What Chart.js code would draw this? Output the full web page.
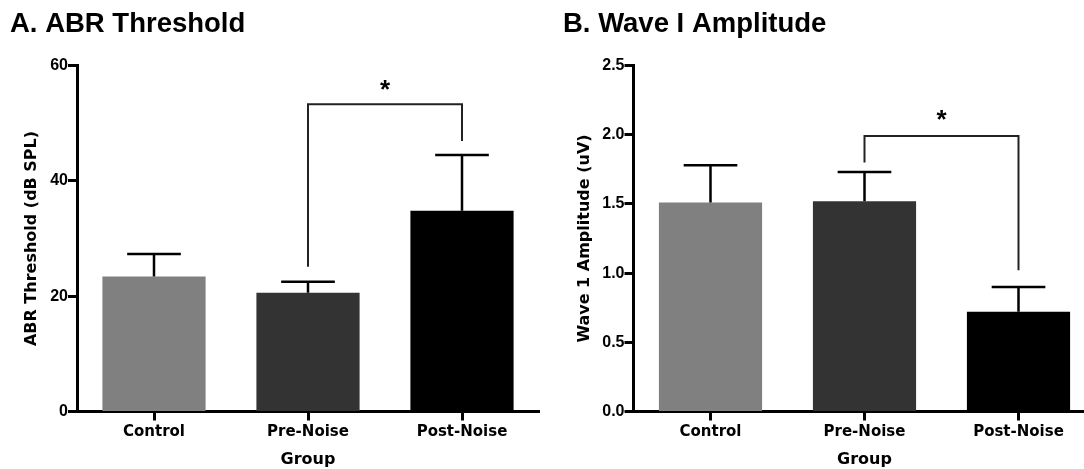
<!DOCTYPE html>
<html><head><meta charset="utf-8">
<script src="https://cdn.jsdelivr.net/npm/chart.js@4.4.1/dist/chart.umd.min.js"></script>
<style>
html,body{margin:0;padding:0;background:#fff;overflow:hidden;width:1084px;height:469px;position:relative;}
#wrapA{position:absolute;left:0;top:0;width:540px;height:469px;}
#wrapB{position:absolute;left:540px;top:0;width:560px;height:469px;}
</style></head><body>
<div id="wrapA"><canvas id="cA" width="540" height="469"></canvas></div>
<div id="wrapB"><canvas id="cB" width="560" height="469"></canvas></div>
<script>
// ---- data ----
const groups = ['Control', 'Pre-Noise', 'Post-Noise'];
const thresholdMean = [23.4, 20.6, 34.8];
const thresholdSEM = [3.9, 1.9, 9.7];
const thresholdTicks = [0, 20, 40, 60];
const amplitudeMean = [1.51, 1.52, 0.72];
const amplitudeSEM = [0.27, 0.21, 0.18];
const amplitudeTicks = [0, 0.5, 1.0, 1.5, 2.0, 2.5];
const barColors = ['#808080', '#333333', '#000000'];
const bracketA = {from: 1, to: 2, top: 53.3, fromEnd: 25.1, toEnd: 46.9, label: '*', labelAt: 56.6};
const bracketB = {from: 1, to: 2, top: 1.99, fromEnd: 1.80, toEnd: 1.02, label: '*', labelAt: 2.14};

const AX = '"DejaVu Sans", sans-serif';
const TF = 'Arial, "Liberation Sans", sans-serif';
Chart.defaults.color = '#000';

const annotate = {
  id: 'annotate',
  afterDatasetsDraw(chart, args, opts) {
    const ctx = chart.ctx, xs = chart.scales.x, ys = chart.scales.y;
    const meta = chart.getDatasetMeta(0);
    ctx.save();
    ctx.strokeStyle = '#000';
    ctx.lineWidth = 2.5;
    opts.mean.forEach((m, i) => {
      const el = meta.data[i];
      const cx = el.x;
      const yTop = ys.getPixelForValue(m + opts.sem[i]);
      const yBar = ys.getPixelForValue(m);
      const half = el.width * 0.26;
      ctx.beginPath();
      ctx.moveTo(cx, yBar); ctx.lineTo(cx, yTop);
      ctx.moveTo(cx - half, yTop); ctx.lineTo(cx + half, yTop);
      ctx.stroke();
    });
    const b = opts.bracket;
    const x1 = xs.getPixelForValue(b.from), x2 = xs.getPixelForValue(b.to);
    ctx.strokeStyle = '#222';
    ctx.lineWidth = 2;
    ctx.beginPath();
    ctx.moveTo(x1, ys.getPixelForValue(b.fromEnd));
    ctx.lineTo(x1, ys.getPixelForValue(b.top));
    ctx.lineTo(x2, ys.getPixelForValue(b.top));
    ctx.lineTo(x2, ys.getPixelForValue(b.toEnd));
    ctx.stroke();
    ctx.font = 'bold 26px ' + TF;
    ctx.fillStyle = '#000';
    ctx.textAlign = 'center';
    ctx.textBaseline = 'alphabetic';
    const mt = ctx.measureText(b.label);
    const cy = ys.getPixelForValue(b.labelAt);
    const base = cy + (mt.actualBoundingBoxAscent - mt.actualBoundingBoxDescent) / 2;
    ctx.fillText(b.label, (x1 + x2) / 2, base);
    ctx.restore();
  }
};

function makeChart(id, cfg) {
  return new Chart(document.getElementById(id), {
    type: 'bar',
    data: {
      labels: groups,
      datasets: [{
        data: cfg.mean,
        backgroundColor: barColors,
        borderWidth: 0,
        barPercentage: 0.67,
        categoryPercentage: 1.0
      }]
    },
    plugins: [annotate],
    options: {
      responsive: false,
      animation: false,
      layout: {padding: {left: cfg.padLeft, right: cfg.padRight, top: 0, bottom: 0}},
      plugins: {
        legend: {display: false},
        tooltip: {enabled: false},
        title: {
          display: true, text: cfg.title, align: 'start', color: '#000',
          font: {family: TF, size: 27.5, weight: 'bold'},
          padding: {top: 8, bottom: 24.5}
        },
        annotate: {mean: cfg.mean, sem: cfg.sem, bracket: cfg.bracket}
      },
      scales: {
        x: {
          offset: true,
          grid: {display: true, drawOnChartArea: false, offset: false, drawTicks: true,
                 tickLength: 9, tickWidth: 3, tickColor: '#000', color: '#000'},
          border: {display: true, width: 3, color: '#000'},
          ticks: {font: {family: AX, size: 15, weight: 'bold'}, padding: 3, color: '#000'},
          title: {display: true, text: 'Group', font: {family: AX, size: 16, weight: 'bold'},
                  padding: {top: 0, bottom: 0}, color: '#000'},
          afterFit(s) { s.height = 57.5; }
        },
        y: {
          min: 0, max: cfg.ticks[cfg.ticks.length - 1],
          grid: {display: true, drawOnChartArea: false, drawTicks: true,
                 tickLength: 9, tickWidth: 3, tickColor: '#000', color: '#000'},
          border: {display: true, width: 3, color: '#000'},
          ticks: {font: {family: TF, size: 16, weight: 'bold'}, padding: 0, color: '#000',
                  callback: cfg.fmt},
          afterBuildTicks(s) { s.ticks = cfg.ticks.map(v => ({value: v})); },
          title: {display: true, text: cfg.ytitle, font: {family: AX, size: 16, weight: 'bold'},
                  padding: {top: cfg.ytitlePad, bottom: 0}, color: '#000'},
          afterFit(s) { s.width = cfg.yWidth; }
        }
      }
    }
  });
}

makeChart('cA', {
  title: 'A. ABR Threshold', mean: thresholdMean, sem: thresholdSEM, ticks: thresholdTicks,
  bracket: bracketA, ytitle: 'ABR Threshold (dB SPL)', fmt: v => String(v),
  padLeft: 10, padRight: 1, yWidth: 67, ytitlePad: 12
});
makeChart('cB', {
  title: 'B. Wave I Amplitude', mean: amplitudeMean, sem: amplitudeSEM, ticks: amplitudeTicks,
  bracket: bracketB, ytitle: 'Wave 1 Amplitude (uV)', fmt: v => Number(v).toFixed(1),
  padLeft: 23, padRight: 4.5, yWidth: 70.5, ytitlePad: 12
});
</script>
</body></html>
